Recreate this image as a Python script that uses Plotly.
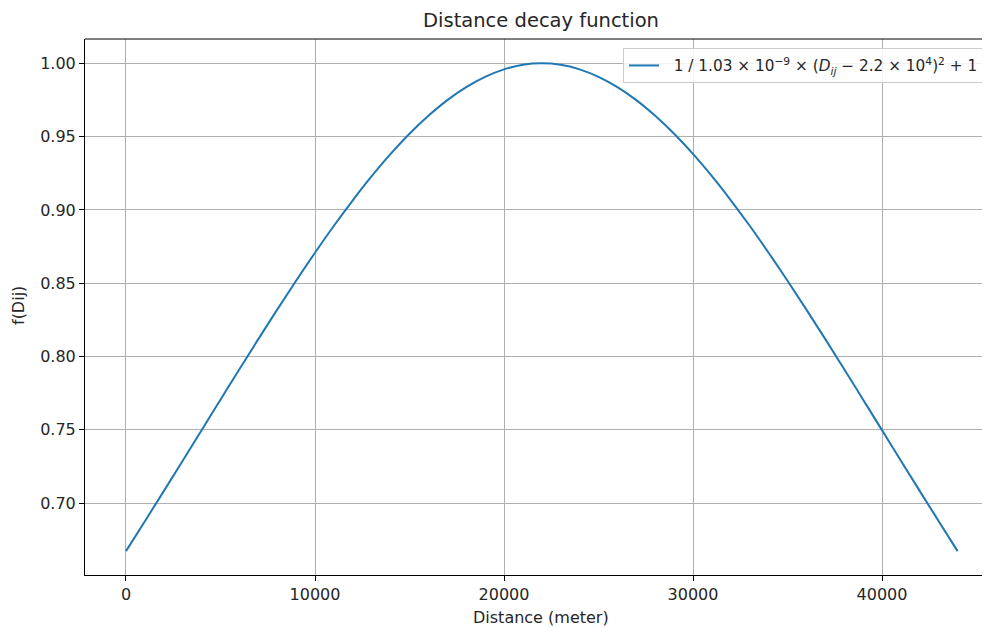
import plotly.graph_objects as go

distance = [0, 1000, 2000, 3000, 4000, 5000, 6000, 7000, 8000, 9000, 10000,
            11000, 12000, 13000, 14000, 15000, 16000, 17000, 18000, 19000, 20000,
            21000, 22000, 23000, 24000, 25000, 26000, 27000, 28000, 29000, 30000,
            31000, 32000, 33000, 34000, 35000, 36000, 37000, 38000, 39000, 40000,
            41000, 42000, 43000, 44000]
f_dij = [0.6673, 0.6877, 0.7082, 0.7289, 0.7498, 0.7706, 0.7914, 0.8119, 0.8320, 0.8517, 0.8708,
         0.8892, 0.9066, 0.9230, 0.9382, 0.9520, 0.9642, 0.9749, 0.9838, 0.9908, 0.9959,
         0.9990, 1.0000, 0.9990, 0.9959, 0.9908, 0.9838, 0.9749, 0.9642, 0.9520, 0.9382,
         0.9230, 0.9066, 0.8892, 0.8708, 0.8517, 0.8320, 0.8119, 0.7914, 0.7706, 0.7498,
         0.7289, 0.7082, 0.6877, 0.6673]
x_ticks = [0, 10000, 20000, 30000, 40000]
y_ticks = [0.70, 0.75, 0.80, 0.85, 0.90, 0.95, 1.00]
legend_label = ("&nbsp;&nbsp;1 / 1.03 × 10<sup>−9</sup> × (<i>D<sub>ij</sub></i> − 2.2 × 10<sup>4</sup>)"
                "<sup>2</sup> + 1")

FONT = "DejaVu Sans"
OFF = 8  # page body margin

W, H = 990 - OFF, 628 - OFF
# reference pixel positions (page coords)
PL, PT, PB, PR = 85, 39, 575, 990
L, T = PL - OFF, PT - OFF
B = H - (PB - OFF)
R = 0
PW, PH = W - L - R, H - T - B
X_RIGHT = 45714  # data value at the reference's right edge


def px_x(px):
    return (px - OFF - L) / PW


def px_y(py):
    return (H - B - (py - OFF)) / PH


fig = go.Figure()
fig.add_trace(go.Scatter(
    x=distance, y=f_dij, mode="lines", name=legend_label,
    line=dict(color="#1f77b4", width=2, shape="spline"),
))

fig.update_layout(
    width=W, height=H,
    margin=dict(l=L, r=R, t=T, b=B, pad=0),
    paper_bgcolor="white", plot_bgcolor="white",
    font=dict(family=FONT, size=16, color="#262626"),
    title=dict(text="Distance decay function", xref="container", yref="container",
               x=(541 - OFF) / W, y=1 - (20 - OFF) / H, xanchor="center", yanchor="middle",
               font=dict(family=FONT, size=19.5, color="#262626")),
    showlegend=True,
    legend=dict(x=px_x(623), y=px_y(48),
                xanchor="left", yanchor="top",
                bgcolor="rgba(255,255,255,0.85)", bordercolor="#cccccc", borderwidth=1,
                font=dict(family=FONT, size=15.3, color="#262626")),
    xaxis=dict(range=[-2169, X_RIGHT], tickvals=x_ticks, ticktext=[str(v) for v in x_ticks],
               showgrid=True, gridcolor="#b0b0b0", gridwidth=1, zeroline=False,
               showline=True, linecolor="black", linewidth=1, mirror=False,
               ticks="outside", ticklen=5, tickcolor="black", tickwidth=1,
               tickfont=dict(family=FONT, size=16, color="#262626")),
    yaxis=dict(range=[0.6510, 1.0166], tickvals=y_ticks, ticktext=[f"{v:.2f}" for v in y_ticks],
               showgrid=True, gridcolor="#b0b0b0", gridwidth=1, zeroline=False,
               showline=True, linecolor="black", linewidth=1,
               ticks="outside", ticklen=5, tickcolor="black", tickwidth=1,
               tickfont=dict(family=FONT, size=16, color="#262626")),
)

# top spine
fig.add_shape(type="line", xref="paper", yref="paper", x0=0, x1=1, y0=1, y1=1,
              line=dict(color="black", width=1))

fig.add_annotation(text="Distance (meter)", xref="paper", yref="paper",
                   x=px_x(541), y=px_y(617),
                   xanchor="center", yanchor="middle", showarrow=False,
                   font=dict(family=FONT, size=16, color="#262626"))
fig.add_annotation(text="f(Dij)", xref="paper", yref="paper",
                   x=px_x(18), y=px_y(306),
                   xanchor="center", yanchor="middle", showarrow=False, textangle=-90,
                   font=dict(family=FONT, size=16, color="#262626"))

fig.write_html("out.html")
